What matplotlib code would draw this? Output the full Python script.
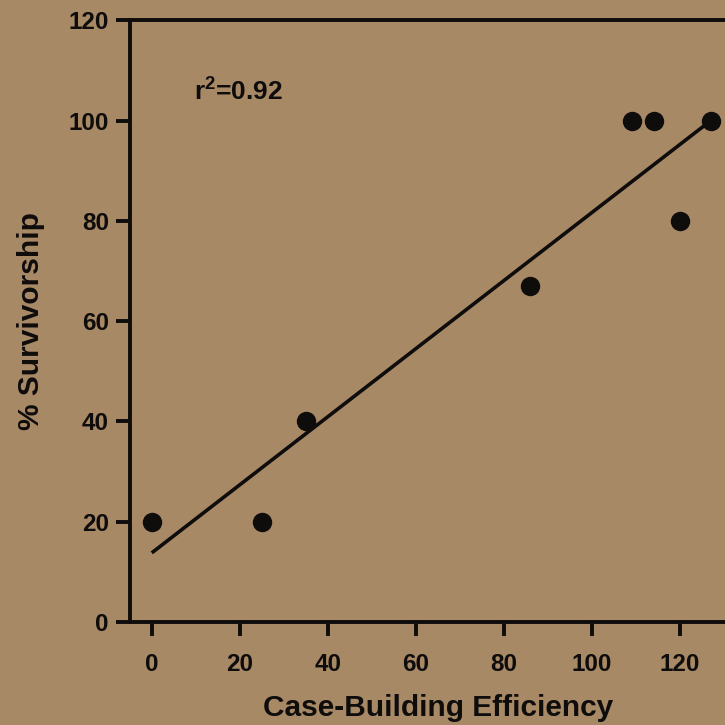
import numpy as np
import matplotlib
matplotlib.use("Agg")
import matplotlib.pyplot as plt

# === data ===
efficiency = [0, 25, 35, 86, 109, 114, 120, 127]
survivorship = [20, 20, 40, 67, 100, 100, 80, 100]
fit_x = [0, 127]          # regression line end points
fit_y = [13.8, 100]
x_ticks = [0, 20, 40, 60, 80, 100, 120]
y_ticks = [0, 20, 40, 60, 80, 100, 120]
r2_text = "0.92"

paper = "#a88966"
ink = "#0f0c0c"

plt.rcParams['font.family'] = ['Liberation Sans', 'DejaVu Sans']
plt.rcParams['font.weight'] = 'bold'
plt.rcParams['mathtext.fontset'] = 'custom'
plt.rcParams['mathtext.bf'] = 'Liberation Sans:bold'
plt.rcParams['mathtext.rm'] = 'Liberation Sans:bold'

fig = plt.figure(figsize=(7.25, 7.25), dpi=100, facecolor=paper)
# axes run off the right edge of the page scan
ax = fig.add_axes([0.179, 0.142, 0.85, 0.830])
ax.set_facecolor(paper)

ax.plot(fit_x, fit_y, color=ink, linewidth=2.6, solid_capstyle='butt')
ax.plot(efficiency, survivorship, 'o', color=ink, markersize=14, markeredgewidth=0)

ax.set_xlim(-5, 135)
ax.set_ylim(0, 120)
ax.set_xticks(x_ticks)
ax.set_yticks(y_ticks)

for s in ax.spines.values():
    s.set_linewidth(2.8)
    s.set_color(ink)

ax.tick_params(axis='y', direction='out', length=10, width=2.8, color=ink,
               labelsize=17.5, labelcolor=ink, pad=5)
ax.tick_params(axis='x', direction='out', length=10, width=2.8, color=ink,
               labelsize=17.5, labelcolor=ink, pad=12)

ax.set_xlabel("Case-Building Efficiency", fontsize=21.5, fontweight='bold', color=ink, labelpad=13)
ax.set_ylabel("% Survivorship", fontsize=21.5, fontweight='bold', color=ink, labelpad=17)

ax.text(9.5, 106, r"r$^{\mathbf{2}}$=" + r2_text, fontsize=19, fontweight='bold', color=ink,
        va='center', ha='left')

fig.savefig("out.png", dpi=100, facecolor=paper)
